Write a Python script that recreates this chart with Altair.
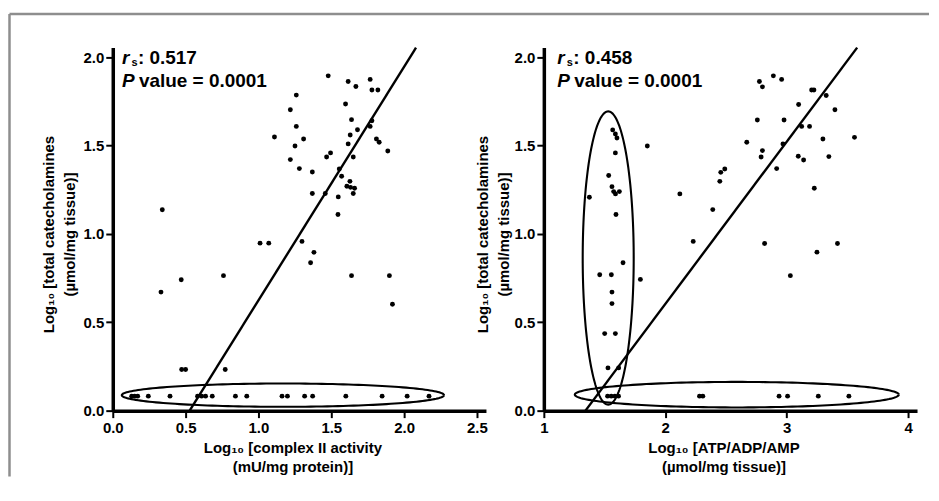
import altair as alt
import pandas as pd
import numpy as np

# ---------------- Left panel: complex II activity ----------------
cx_x = [1.479, 1.616, 1.669, 1.767, 1.779, 1.820, 1.260, 1.598, 1.219, 1.639,
        1.779, 1.260, 1.767, 1.680, 1.630, 1.110, 1.310, 1.810, 1.829, 1.251,
        1.616, 1.888, 1.495, 1.468, 1.651, 1.219, 1.281, 1.555, 1.370, 1.571,
        1.628, 1.607, 1.632, 1.660, 1.651, 1.370, 1.459, 1.548, 1.546, 1.011,
        1.071, 1.299, 1.381, 1.358,
        0.340, 0.331, 0.470, 0.760, 1.639, 1.899, 1.920, 0.473, 0.500, 0.772,
        0.130, 0.150, 0.171, 0.244, 0.393, 0.582, 0.610, 0.637, 0.683, 0.842,
        0.920, 1.162, 1.199, 1.317, 1.372, 1.600, 1.849, 2.021, 2.171]
cx_y = [1.895, 1.863, 1.835, 1.875, 1.815, 1.815, 1.786, 1.736, 1.703, 1.647,
        1.641, 1.609, 1.609, 1.590, 1.560, 1.549, 1.538, 1.538, 1.519, 1.498,
        1.510, 1.470, 1.459, 1.436, 1.436, 1.421, 1.370, 1.368, 1.351, 1.327,
        1.298, 1.270, 1.264, 1.259, 1.229, 1.229, 1.229, 1.210, 1.110, 0.948,
        0.948, 0.958, 0.896, 0.837,
        1.137, 0.671, 0.741, 0.764, 0.764, 0.764, 0.602, 0.233, 0.233, 0.233,
        0.082, 0.082, 0.082, 0.082, 0.082, 0.082, 0.082, 0.082, 0.082, 0.082,
        0.082, 0.082, 0.082, 0.082, 0.082, 0.082, 0.082, 0.082, 0.082]

# ---------------- Right panel: ATP/ADP/AMP ----------------
atp_x = [2.775, 2.800, 2.890, 2.958, 3.205, 3.224, 3.325, 3.098, 3.397, 2.758,
         2.978, 3.123, 3.188, 3.298, 3.558, 2.671, 2.969, 2.800, 2.789, 3.095,
         3.139, 3.347, 2.490, 2.457, 2.917, 2.449, 3.227, 1.852, 2.120, 2.391,
         2.230, 2.818, 3.418, 3.249, 3.030, 1.795,
         1.567, 1.589, 1.602, 1.589, 1.534, 1.561, 1.575, 1.590, 1.622, 1.375,
         1.594, 1.652, 1.460, 1.556, 1.561, 1.561, 1.501, 1.589, 1.528, 1.616,
         1.525, 1.555, 1.585, 1.615, 2.282, 2.309, 2.937, 3.007, 3.260, 3.512]
atp_y = [1.863, 1.833, 1.895, 1.875, 1.815, 1.815, 1.784, 1.733, 1.703, 1.645,
         1.645, 1.609, 1.609, 1.538, 1.547, 1.519, 1.510, 1.472, 1.436, 1.440,
         1.419, 1.438, 1.368, 1.349, 1.370, 1.298, 1.259, 1.498, 1.227, 1.138,
         0.958, 0.946, 0.946, 0.897, 0.764, 0.743,
         1.589, 1.566, 1.543, 1.459, 1.331, 1.268, 1.240, 1.227, 1.240, 1.208,
         1.110, 0.837, 0.769, 0.769, 0.671, 0.606, 0.436, 0.436, 0.242, 0.242,
         0.082, 0.082, 0.082, 0.082, 0.082, 0.082, 0.082, 0.082, 0.082, 0.082]

# regression lines (end points)
fit1_x = [0.528, 2.082]
fit1_y = [0.0, 2.055]
fit2_x = [1.343, 3.580]
fit2_y = [0.0, 2.055]

# annotation ellipses: centre x, centre y, radius x, radius y
ellipses1 = [(1.168, 0.0876, 1.106, 0.066)]
ellipses2 = [(2.589, 0.0904, 1.334, 0.0723), (1.530, 0.864, 0.210, 0.830)]

rs_texts = [": 0.517", ": 0.458"]
p_text = "value = 0.0001"

y_ticks = [0, 0.5, 1.0, 1.5, 2.0]
x1_ticks = [0, 0.5, 1.0, 1.5, 2.0, 2.5]
x2_ticks = [1, 2, 3, 4]

FONT = "Liberation Sans"
W, H = 374, 364
Y_DOM = [0, 2.056]


def ellipse_df(ells):
    t = np.linspace(0, 2 * np.pi, 181)
    rows = []
    for k, (cx, cy, rx, ry) in enumerate(ells):
        for i, tt in enumerate(t):
            rows.append({"x": cx + rx * np.cos(tt), "y": cy + ry * np.sin(tt), "e": k, "i": i})
    return pd.DataFrame(rows)


def panel(px, py, fx, fy, ells, xdom, xticks, xfmt, xtitle, rs, ann_x, ytitle_x, frame=False):
    xs = alt.Scale(domain=xdom, nice=False, zero=False)
    ys = alt.Scale(domain=Y_DOM, nice=False, zero=False)
    x_enc = alt.X("x:Q", scale=xs, axis=alt.Axis(
        values=xticks, format=xfmt, title=xtitle, titleX=180, titleY=29.5,
        titleAlign="center", titleBaseline="top", titleLineHeight=19.5,
        labelPadding=3, labelFlush=False))
    y_enc = alt.Y("y:Q", scale=ys, axis=alt.Axis(
        values=y_ticks, format=".1f",
        title=["Log\u2081\u2080 [total catecholamines", "(\u00b5mol/mg tissue)]"],
        titleX=ytitle_x, titleY=187, titleAngle=-90, titleAlign="center",
        titleBaseline="top", titleLineHeight=20.5, labelPadding=2, labelFlush=False))

    pts = alt.Chart(pd.DataFrame({"x": px, "y": py})).mark_circle(
        size=24, color="black", opacity=1).encode(x=x_enc, y=y_enc)
    fit = alt.Chart(pd.DataFrame({"x": fx, "y": fy})).mark_line(
        color="black", strokeWidth=2.4).encode(x=x_enc, y=y_enc)
    ell = alt.Chart(ellipse_df(ells)).mark_line(
        color="black", strokeWidth=2.1).encode(
        x=x_enc, y=y_enc, detail="e:N", order="i:Q")

    a1 = pd.DataFrame({"x": [ann_x], "y": [1.9616]})
    a2 = pd.DataFrame({"x": [ann_x], "y": [1.833]})
    t_r = alt.Chart(a1).mark_text(text="r", font=FONT, fontSize=19, fontWeight="bold",
                                  fontStyle="italic", align="left", baseline="alphabetic",
                                  color="black").encode(x=x_enc, y=y_enc)
    t_s = alt.Chart(a1).mark_text(text="s", font=FONT, fontSize=11, fontWeight="bold",
                                  align="left", baseline="alphabetic", dx=9.5, dy=2,
                                  color="black").encode(x=x_enc, y=y_enc)
    t_v = alt.Chart(a1).mark_text(text=rs, font=FONT, fontSize=19, fontWeight="bold",
                                  align="left", baseline="alphabetic", dx=16,
                                  color="black").encode(x=x_enc, y=y_enc)
    t_p = alt.Chart(a2).mark_text(text="P", font=FONT, fontSize=19, fontWeight="bold",
                                  fontStyle="italic", align="left", baseline="alphabetic",
                                  color="black").encode(x=x_enc, y=y_enc)
    t_pv = alt.Chart(a2).mark_text(text=p_text, font=FONT, fontSize=19, fontWeight="bold",
                                   align="left", baseline="alphabetic", dx=17,
                                   color="black").encode(x=x_enc, y=y_enc)
    layers = [pts, fit, ell, t_r, t_s, t_v, t_p, t_pv]
    if frame:
        one = pd.DataFrame({"a": [0]})
        fr_h = alt.Chart(one).mark_rule(color="#8e8e8e", strokeWidth=2.5).encode(
            x=alt.value(-103.5), x2=alt.value(818), y=alt.value(-33.5))
        fr_v = alt.Chart(one).mark_rule(color="#8e8e8e", strokeWidth=2.5).encode(
            x=alt.value(-103.5), y=alt.value(-33.5), y2=alt.value(430))
        layers += [fr_h, fr_v]
    return alt.layer(*layers).properties(width=W, height=H)


left = panel(cx_x, cx_y, fit1_x, fit1_y, ellipses1, [0, 2.562], x1_ticks, ".1f",
             ["Log\u2081\u2080 [complex II activity", "(mU/mg protein)]"],
             rs_texts[0], 0.063, -71, frame=True)
right = panel(atp_x, atp_y, fit2_x, fit2_y, ellipses2, [1, 4.073], x2_ticks, "d",
              ["Log\u2081\u2080 [ATP/ADP/AMP", "(\u00b5mol/mg tissue)]"],
              rs_texts[1], 1.111, -68)

chart = alt.hconcat(left, right, spacing=58, bounds="flush").properties(
    padding={"left": 0, "top": 4, "right": 0, "bottom": 0},
    background="white"
).configure_view(stroke=None).configure_axis(
    grid=False, domainColor="black", domainWidth=3.5, tickColor="black", tickWidth=2,
    tickSize=7, labelFont=FONT, labelFontSize=15, labelFontWeight="bold",
    labelColor="black", titleFont=FONT, titleFontSize=15, titleFontWeight="bold",
    titleColor="black"
)

chart.save("out.html", embed_options={"renderer": "svg", "actions": False})
